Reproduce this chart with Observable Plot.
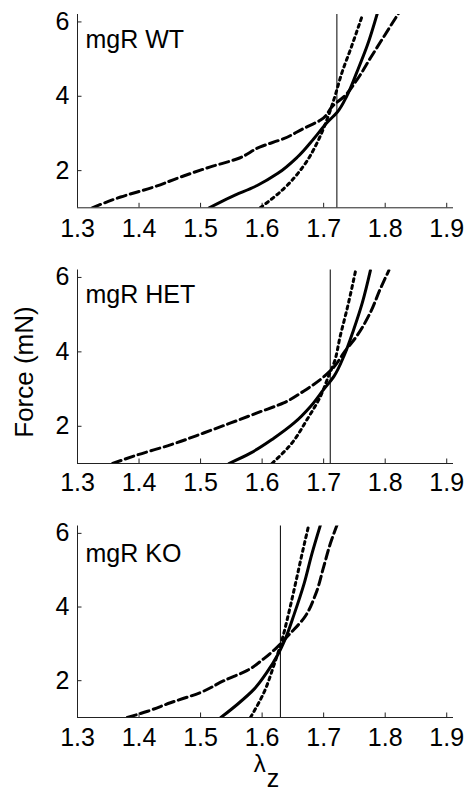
<!DOCTYPE html>
<html>
<head>
<meta charset="utf-8">
<script src="https://cdn.jsdelivr.net/npm/d3@7"></script>
<script src="https://cdn.jsdelivr.net/npm/@observablehq/plot@0.6"></script>
<style>
  html, body { margin: 0; padding: 0; background: #fff; }
  #fig { position: relative; width: 465px; height: 795px; background: #fff; font-family: "Liberation Sans", Arial, sans-serif; color: #000; overflow: hidden; }
  #fig svg { position: absolute; left: 0; overflow: visible; }
  .ylab { position: absolute; left: 24px; top: 372px; transform: translate(-50%, -50%) rotate(-90deg); white-space: nowrap; font-size: 26px; line-height: 1; }
  .xlab { position: absolute; left: 266px; top: 755px; transform: translateX(-50%); white-space: nowrap; font-size: 24px; line-height: 0.7; }
  .xlab .sub { position: relative; top: 15px; left: 1px; font-size: 25px; }
</style>
</head>
<body>
<div id="fig">
  <div class="ylab">Force (mN)</div>
  <div class="xlab">λ<span class="sub">z</span></div>
</div>
<script>
// ---- tick labels ----
const xTicks = [1.3, 1.4, 1.5, 1.6, 1.7, 1.8, 1.9];
const yTicks = [2, 4, 6];
const xDomain = [1.3, 1.911];
const yDomain = [1, 6.2];

// ---- panel labels ----
const panelLabels = ["mgR WT", "mgR HET", "mgR KO"];

// ---- mgR WT ----
const wtDashX = [1.324, 1.370, 1.424, 1.468, 1.516, 1.560, 1.597, 1.635, 1.668, 1.695, 1.716, 1.733, 1.754, 1.776, 1.798, 1.822];
const wtDashY = [1.0, 1.29, 1.56, 1.83, 2.10, 2.32, 2.64, 2.86, 3.14, 3.36, 3.76, 3.99, 4.44, 5.03, 5.61, 6.24];
const wtSolidX = [1.514, 1.549, 1.592, 1.625, 1.657, 1.684, 1.706, 1.722, 1.738, 1.754, 1.771, 1.787];
const wtSolidY = [1.0, 1.29, 1.60, 1.92, 2.36, 2.86, 3.30, 3.57, 4.02, 4.65, 5.37, 6.22];
const wtDotX = [1.597, 1.635, 1.668, 1.690, 1.706, 1.717, 1.730, 1.744, 1.763];
const wtDotY = [1.0, 1.51, 2.14, 2.77, 3.40, 3.93, 4.65, 5.28, 6.18];
const wtRef = 1.7215;

// ---- mgR HET ----
const hetDashX = [1.357, 1.397, 1.451, 1.505, 1.549, 1.592, 1.635, 1.668, 1.695, 1.716, 1.733, 1.754, 1.776, 1.792, 1.806];
const hetDashY = [1.0, 1.23, 1.50, 1.82, 2.09, 2.36, 2.63, 2.95, 3.26, 3.58, 3.98, 4.43, 5.06, 5.69, 6.19];
const hetSolidX = [1.546, 1.581, 1.619, 1.652, 1.679, 1.700, 1.717, 1.733, 1.749, 1.763, 1.776];
const hetSolidY = [1.0, 1.28, 1.68, 2.09, 2.54, 2.99, 3.35, 3.89, 4.61, 5.33, 6.19];
const hetDotX = [1.616, 1.646, 1.673, 1.695, 1.708, 1.717, 1.727, 1.738, 1.752];
const hetDotY = [1.0, 1.50, 2.18, 2.81, 3.35, 3.71, 4.43, 5.15, 6.19];
const hetRef = 1.7107;

// ---- mgR KO ----
const koDashX = [1.381, 1.414, 1.451, 1.500, 1.538, 1.576, 1.603, 1.625, 1.646, 1.668, 1.687, 1.700, 1.711, 1.722];
const koDashY = [1.0, 1.17, 1.40, 1.68, 2.0, 2.28, 2.60, 2.92, 3.29, 3.70, 4.35, 5.09, 5.73, 6.24];
const koSolidX = [1.533, 1.560, 1.587, 1.608, 1.625, 1.638, 1.652, 1.668, 1.681, 1.695];
const koSolidY = [1.0, 1.36, 1.77, 2.23, 2.69, 3.15, 3.80, 4.62, 5.45, 6.24];
const koDotX = [1.581, 1.603, 1.619, 1.633, 1.644, 1.654, 1.665, 1.676];
const koDotY = [1.0, 1.68, 2.41, 3.15, 3.89, 4.62, 5.45, 6.24];
const koRef = 1.6297;

const zip = (xs, ys) => xs.map((x, i) => ({x, y: ys[i]}));

const panels = [
  {label: panelLabels[0], dash: zip(wtDashX, wtDashY), solid: zip(wtSolidX, wtSolidY), dot: zip(wtDotX, wtDotY), ref: wtRef,
   top: 0, height: 258, mt: 14, mb: 50.7, pad: 11, ldy: 16},
  {label: panelLabels[1], dash: zip(hetDashX, hetDashY), solid: zip(hetSolidX, hetSolidY), dot: zip(hetDotX, hetDotY), ref: hetRef,
   top: 258, height: 257, mt: 11.5, mb: 52, pad: 10, ldy: 15.5},
  {label: panelLabels[2], dash: zip(koDashX, koDashY), solid: zip(koSolidX, koSolidY), dot: zip(koDotX, koDotY), ref: koRef,
   top: 515, height: 280, mt: 10.5, mb: 78, pad: 11, ldy: 18}
];

const fig = document.getElementById("fig");
const W = 465, ML = 77, MR = 12;
const font = '"Liberation Sans", Arial, sans-serif';

for (const p of panels) {
  const plotH = p.height - p.mt - p.mb;
  const plotW = W - ML - MR;
  const lineOpts = {x: "x", y: "y", stroke: "#000", strokeWidth: 3, curve: "monotone-y", clip: true};
  const chart = Plot.plot({
    width: W, height: p.height,
    marginLeft: ML, marginRight: MR, marginTop: p.mt, marginBottom: p.mb,
    style: {fontFamily: font, fontSize: "25px", color: "#000", background: "transparent", overflow: "visible"},
    x: {domain: xDomain},
    y: {domain: yDomain},
    marks: [
      Plot.axisX(xTicks, {tickSize: 0, tickPadding: p.pad, tickFormat: d3.format(".1f"), label: null, fontSize: 25}),
      Plot.axisY(yTicks, {tickSize: 0, tickPadding: 8, label: null, fontSize: 25}),
      Plot.tickX(xTicks, {x: d => d, insetTop: plotH - 4.5, stroke: "#222", strokeWidth: 1}),
      Plot.tickY(yTicks, {y: d => d, insetRight: plotW - 4.5, stroke: "#222", strokeWidth: 1}),
      Plot.ruleX([xDomain[0]], {stroke: "#222", strokeWidth: 1}),
      Plot.ruleY([yDomain[0]], {stroke: "#222", strokeWidth: 1}),
      Plot.ruleX([p.ref], {stroke: "#000", strokeWidth: 1}),
      Plot.line(p.dash, {...lineOpts, strokeDasharray: "9,4.5"}),
      Plot.line(p.dot, {...lineOpts, strokeDasharray: "3,4"}),
      Plot.line(p.solid, lineOpts),
      Plot.text([p.label], {text: d => d, frameAnchor: "top-left", textAnchor: "start", lineAnchor: "top", dx: 8, dy: p.ldy, fontSize: 25, fill: "#000"})
    ]
  });
  chart.style.top = p.top + "px";
  fig.appendChild(chart);
}
</script>
</body>
</html>
